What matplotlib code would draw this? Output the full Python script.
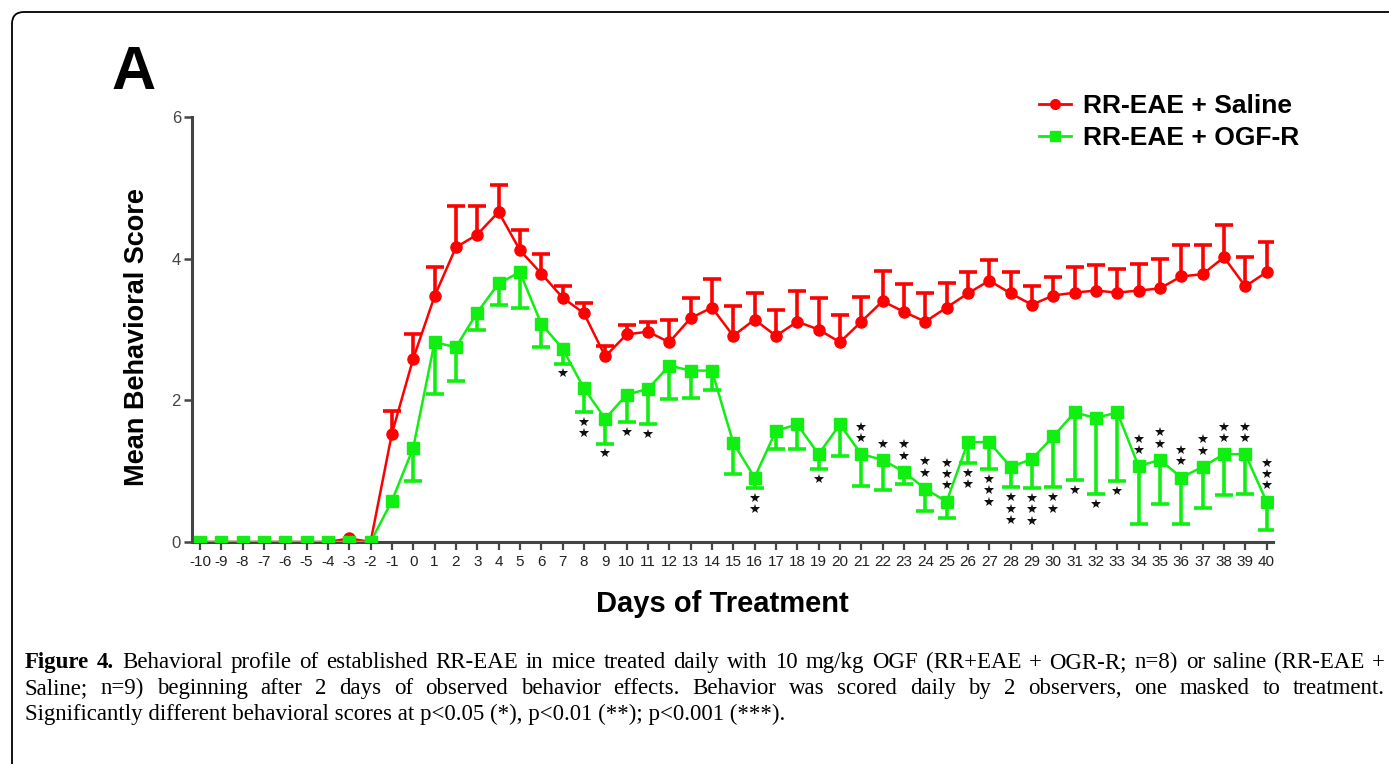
import numpy as np
import matplotlib
matplotlib.use("Agg")
import matplotlib.pyplot as plt
from matplotlib.patches import FancyBboxPatch
from matplotlib.lines import Line2D

# ---------------- data ----------------
days = list(range(-10, 41))

saline_mean = [0, 0, 0, 0, 0, 0, 0, 0.05, 0,
               1.53, 2.59, 3.47, 4.16, 4.34, 4.66, 4.12, 3.79, 3.45, 3.23,
               2.62, 2.93, 2.97, 2.82, 3.16, 3.31, 2.91, 3.14, 2.91, 3.11,
               3.00, 2.82, 3.11, 3.40, 3.25, 3.11, 3.31, 3.51, 3.69, 3.51,
               3.35, 3.48, 3.52, 3.55, 3.52, 3.55, 3.58, 3.75, 3.78, 4.02,
               3.61, 3.81]
saline_err = [0, 0, 0, 0, 0, 0, 0, 0, 0,
              0.32, 0.35, 0.41, 0.58, 0.41, 0.38, 0.28, 0.28, 0.17, 0.15,
              0.15, 0.13, 0.13, 0.32, 0.28, 0.40, 0.42, 0.38, 0.37, 0.43,
              0.44, 0.38, 0.35, 0.42, 0.39, 0.40, 0.35, 0.30, 0.29, 0.30,
              0.26, 0.26, 0.36, 0.36, 0.33, 0.38, 0.41, 0.45, 0.41, 0.45,
              0.42, 0.42]

ogf_mean = [0, 0, 0, 0, 0, 0, 0, 0, 0,
            0.58, 1.33, 2.82, 2.75, 3.24, 3.65, 3.81, 3.08, 2.73, 2.17,
            1.74, 2.08, 2.16, 2.49, 2.42, 2.42, 1.40, 0.91, 1.57, 1.66,
            1.24, 1.66, 1.24, 1.16, 0.99, 0.75, 0.57, 1.41, 1.41, 1.06,
            1.17, 1.49, 1.83, 1.75, 1.83, 1.07, 1.16, 0.91, 1.06, 1.24,
            1.24, 0.57]
ogf_err = [0, 0, 0, 0, 0, 0, 0, 0, 0,
           0, 0.47, 0.73, 0.47, 0.24, 0.31, 0.50, 0.32, 0.21, 0.33,
           0.35, 0.38, 0.49, 0.47, 0.38, 0.27, 0.44, 0.15, 0.25, 0.34,
           0.21, 0.44, 0.45, 0.42, 0.17, 0.31, 0.23, 0.29, 0.38, 0.29,
           0.41, 0.72, 0.96, 1.07, 0.97, 0.82, 0.62, 0.66, 0.58, 0.58,
           0.56, 0.40]

sig_days = [7, 8, 9, 10, 11, 16, 19, 21, 22, 23, 24, 25, 26, 27, 28, 29, 30,
            31, 32, 33, 34, 35, 36, 37, 38, 39, 40]
sig_stars = [1, 2, 1, 1, 1, 2, 1, 2, 1, 2, 2, 3, 2, 3, 3, 3, 2,
             1, 1, 1, 2, 2, 2, 2, 2, 2, 3]
sig_side = ['below'] * 7 + ['above'] * 5 + ['below'] * 8 + ['above'] * 7

labels = ["RR-EAE + Saline", "RR-EAE + OGF-R"]
colors = ["#ff0000", "#11ee11"]

caption_lines = [
    "Behavioral profile of established RR-EAE in mice treated daily with 10 mg/kg OGF (RR+EAE + OGR-R; n=8) or saline (RR-EAE +",
    "Saline; n=9) beginning after 2 days of observed behavior effects. Behavior was scored daily by 2 observers, one masked to treatment.",
    "Significantly different behavioral scores at p<0.05 (*), p<0.01 (**); p<0.001 (***).",
]

# ---------------- figure ----------------
W, H = 1389, 764
fig = plt.figure(figsize=(W / 100, H / 100), dpi=100)
fig.patch.set_facecolor("white")

ov = fig.add_axes([0, 0, 1, 1], zorder=0)
ov.set_xlim(0, W)
ov.set_ylim(H, 0)
ov.axis("off")
ov.add_patch(FancyBboxPatch((12, 12), W + 40, H + 40,
                            boxstyle="round,pad=0,rounding_size=12",
                            fc="white", ec="black", lw=1.3))

SANS = "Liberation Sans"
SERIF = "Liberation Serif"

ax = fig.add_axes([192 / W, 1 - 542 / H, (1273 - 192) / W, (542 - 117) / H], zorder=1)
ax.patch.set_alpha(0)

x = np.array(days, dtype=float)


def draw(mean, err, color, marker, ms, up):
    m = np.array(mean)
    e = np.array(err)
    ax.plot(x, m, color=color, lw=1.8, marker=marker, ms=ms, mfc=color, mec=color, zorder=3)
    idx = e > 0
    yerr = [np.zeros(idx.sum()), e[idx]] if up else [e[idx], np.zeros(idx.sum())]
    eb = ax.errorbar(x[idx], m[idx], yerr=yerr, fmt="none", ecolor=color,
                     elinewidth=2.6, capsize=6.5, capthick=2.6, zorder=2)
    for cl in eb.lines[1]:
        if np.allclose(cl.get_ydata(), m[idx]):
            cl.set_visible(False)


draw(saline_mean, saline_err, colors[0], "o", 8, True)
draw(ogf_mean, ogf_err, colors[1], "s", 8, False)

# significance stars
om = dict(zip(days, ogf_mean))
oe = dict(zip(days, ogf_err))
for d, n, side in zip(sig_days, sig_stars, sig_side):
    for k in range(n):
        if side == "below":
            yy = om[d] - oe[d] - 0.14 - 0.16 * k
        else:
            yy = om[d] + 0.23 + 0.16 * k
        ax.plot([d], [yy], marker="*", color="#111111", ms=7.5, mew=0, zorder=4)

ax.set_xlim(-10.37, 40.3)
ax.set_ylim(0, 6)
ax.set_yticks([0, 2, 4, 6])
ax.set_xticks(days)
ax.set_xticklabels([str(d) for d in days])
for s in ["top", "right"]:
    ax.spines[s].set_visible(False)
for s in ["left", "bottom"]:
    ax.spines[s].set_color("#444444")
    ax.spines[s].set_linewidth(2.2)
ax.tick_params(axis="y", direction="out", length=6, width=1.8, color="#444444",
               labelsize=12, labelcolor="#444444", pad=2)
ax.tick_params(axis="x", direction="out", length=6, width=1.6, color="#444444",
               labelsize=11, labelcolor="#222222", pad=3)
for t in ax.get_xticklabels() + ax.get_yticklabels():
    t.set_fontfamily(SANS)

ov.text(137, 337, "Mean Behavioral Score", rotation=90, ha="center", va="center",
        fontsize=19.5, fontweight="bold", family=SANS)
ov.text(722, 604, "Days of Treatment", ha="center", va="center",
        fontsize=21, fontweight="bold", family=SANS)
ov.text(111, 89, "A", ha="left", va="baseline", fontsize=44, fontweight="bold", family=SANS)

handles = [Line2D([0], [0], color=colors[0], marker="o", ms=7, lw=2),
           Line2D([0], [0], color=colors[1], marker="s", ms=7, lw=2)]
fig.legend(handles, labels, loc="upper right", bbox_to_anchor=(1299 / W, 1 - 94 / H),
           frameon=False, prop=dict(family=SANS, weight="bold", size=19),
           handlelength=1.2, handletextpad=0.45, labelspacing=0.32,
           borderaxespad=0, borderpad=0)

# ---------------- caption ----------------
renderer = fig.canvas.get_renderer()
CAP = 16.5
LEFT, RIGHT = 25, 1385
baselines = [668, 694, 720]


def justified(words, y):
    objs = []
    for w, bold in words:
        t = ov.text(0, y, w, fontsize=CAP, family=SERIF,
                    fontweight="bold" if bold else "normal", va="baseline", ha="left")
        objs.append(t)
    widths = [t.get_window_extent(renderer).width for t in objs]
    gap = (RIGHT - LEFT - sum(widths)) / (len(objs) - 1)
    cx = LEFT
    for t, wdt in zip(objs, widths):
        t.set_x(cx)
        cx += wdt + gap


w1 = [("Figure", True), ("4.", True)] + [(w, False) for w in caption_lines[0].split()]
justified(w1, baselines[0])
justified([(w, False) for w in caption_lines[1].split()], baselines[1])
ov.text(LEFT, baselines[2], caption_lines[2], fontsize=CAP, family=SERIF, va="baseline", ha="left")

fig.savefig("out.png", dpi=100, facecolor="white")
